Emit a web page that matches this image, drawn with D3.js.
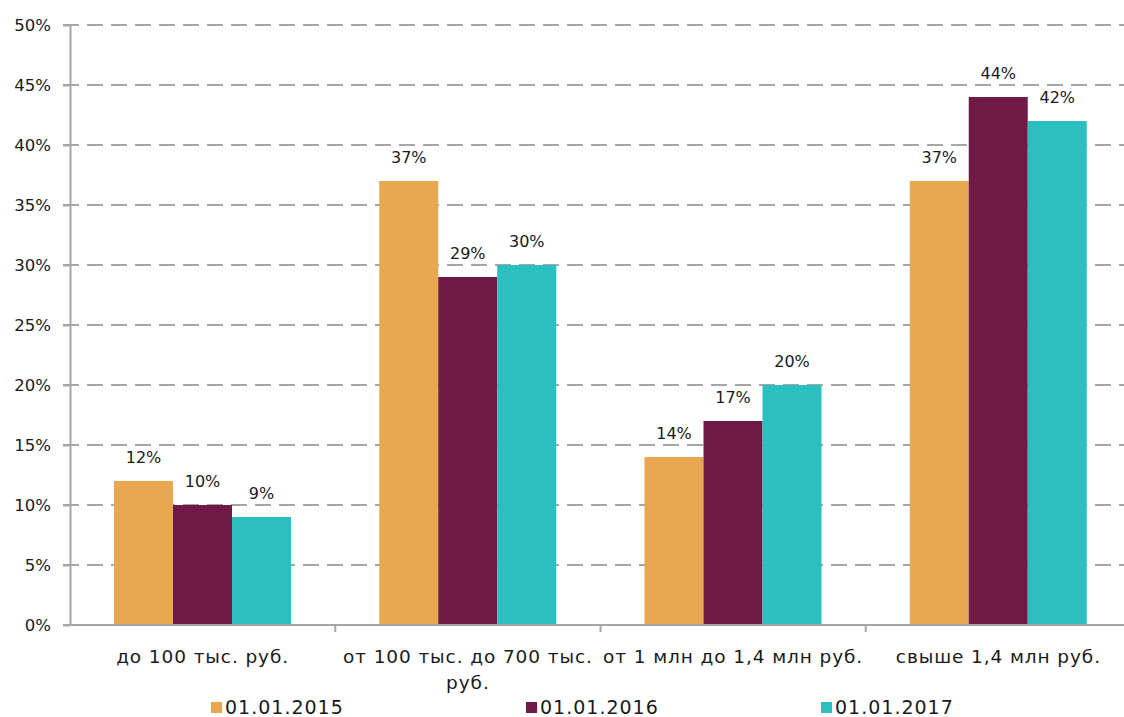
<!DOCTYPE html>
<html><head><meta charset="utf-8">
<script src="https://cdn.jsdelivr.net/npm/d3@7"></script>
<style>body{margin:0;background:#fff;} svg{display:block;} text{font-family:"DejaVu Sans",sans-serif;}</style>
</head><body>
<svg id="c" width="1124" height="717"></svg>
<script>
const categories = ["до 100 тыс. руб.", "от 100 тыс. до 700 тыс. руб.", "от 1 млн до 1,4 млн руб.", "свыше 1,4 млн руб."];
const categoryLines = [["до 100 тыс. руб."], ["от 100 тыс. до 700 тыс.", "руб."], ["от 1 млн до 1,4 млн руб."], ["свыше 1,4 млн руб."]];
const seriesNames = ["01.01.2015", "01.01.2016", "01.01.2017"];
const s2015 = [12, 37, 14, 37];
const s2016 = [10, 29, 17, 44];
const s2017 = [9, 30, 20, 42];
const yTicks = [0, 5, 10, 15, 20, 25, 30, 35, 40, 45, 50];
const colors = ["#E8A852", "#6E1A45", "#2BBFBF"];
const seriesValues = [s2015, s2016, s2017];

const svg = d3.select("#c");
const x0 = d3.scaleBand().domain(categories).range([70, 1131]).padding(0);
const x1 = d3.scaleBand().domain(seriesNames).range([44, 221]).padding(0);
const y = d3.scaleLinear().domain([0, 50]).range([625, 25]);

// gridlines
svg.append("g").selectAll("line").data(yTicks.filter(d => d > 0)).join("line")
  .attr("x1", 63).attr("x2", 1124).attr("y1", d => y(d)).attr("y2", d => y(d))
  .attr("stroke", "#a6a6a6").attr("stroke-width", 2).attr("stroke-dasharray", "16,8");

// bars
const g = svg.append("g").selectAll("g").data(categories).join("g")
  .attr("transform", d => `translate(${x0(d)},0)`);
g.selectAll("rect").data((c, i) => seriesNames.map((s, j) => ({s, v: seriesValues[j][i], j}))).join("rect")
  .attr("x", d => x1(d.s)).attr("width", x1.bandwidth())
  .attr("y", d => y(d.v)).attr("height", d => y(0) - y(d.v))
  .attr("fill", d => colors[d.j]);
g.selectAll("text").data((c, i) => seriesNames.map((s, j) => ({s, v: seriesValues[j][i], j}))).join("text")
  .attr("x", d => x1(d.s) + x1.bandwidth() / 2).attr("y", d => y(d.v) - 18)
  .attr("text-anchor", "middle").attr("font-size", 16).attr("fill", "#1a1a1a")
  .text(d => d.v + "%");

// y axis
const yAxis = d3.axisLeft(y).tickValues(yTicks).tickFormat(d => d + "%").tickSize(7).tickSizeOuter(0);
const ya = svg.append("g").attr("transform", "translate(70,0)").call(yAxis);
ya.select(".domain").attr("stroke", "#a6a6a6").attr("stroke-width", 2);
ya.selectAll(".tick line").attr("stroke", "#a6a6a6").attr("stroke-width", 2);
ya.selectAll(".tick text").attr("font-size", 16.5).attr("fill", "#1a1a1a").attr("x", -19)
  .attr("font-family", "'DejaVu Sans',sans-serif");

// x axis
svg.append("line").attr("x1", 63).attr("x2", 1124).attr("y1", y(0)).attr("y2", y(0))
  .attr("stroke", "#a6a6a6").attr("stroke-width", 2);
svg.append("g").selectAll("line").data(categories.slice(1)).join("line")
  .attr("x1", d => x0(d)).attr("x2", d => x0(d)).attr("y1", y(0)).attr("y2", y(0) + 7)
  .attr("stroke", "#a6a6a6").attr("stroke-width", 2);
const xl = svg.append("g").selectAll("text").data(categories).join("text")
  .attr("x", d => x0(d) + x0.bandwidth() / 2).attr("y", 663)
  .attr("text-anchor", "middle").attr("font-size", 18.5).attr("letter-spacing", 0.9).attr("fill", "#1a1a1a");
xl.each(function(d, i) {
  d3.select(this).selectAll("tspan").data(categoryLines[i]).join("tspan")
    .attr("x", x0(d) + x0.bandwidth() / 2).attr("dy", (t, k) => k === 0 ? 0 : 26).text(t => t);
});

// legend
const legX = [211, 526, 821];
const lg = svg.append("g").selectAll("g").data(seriesNames).join("g")
  .attr("transform", (d, i) => `translate(${legX[i]},0)`);
lg.append("rect").attr("x", 0).attr("y", 702).attr("width", 11).attr("height", 11).attr("fill", (d, i) => colors[i]);
lg.append("text").attr("x", 14).attr("y", 714).attr("font-size", 19).attr("letter-spacing", 1).attr("fill", "#1a1a1a").text(d => d);
</script>
</body></html>
